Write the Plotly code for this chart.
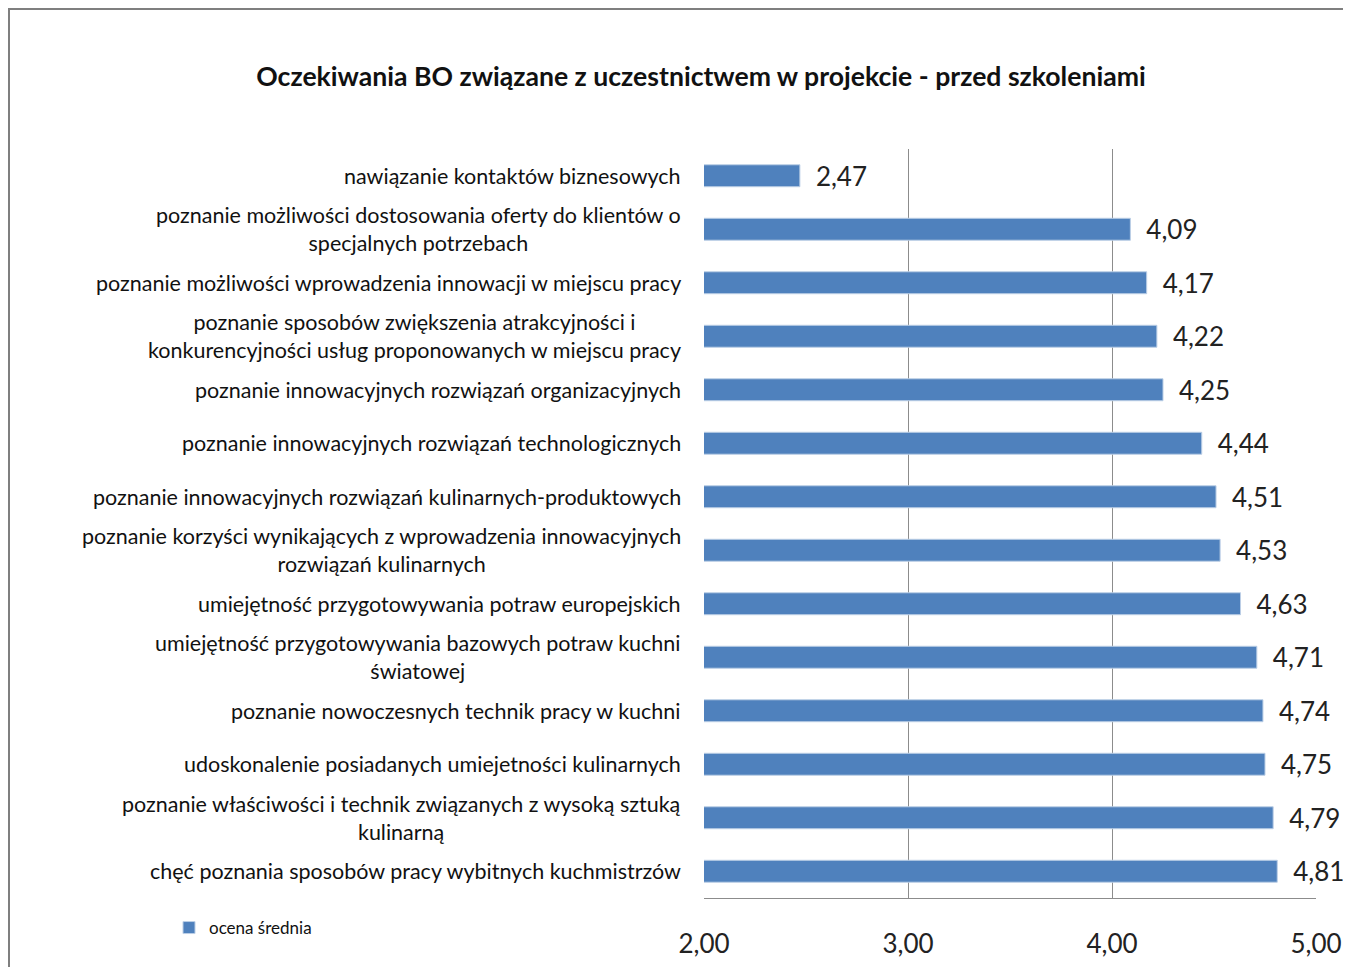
import plotly.graph_objects as go

categories = [
    "nawiązanie kontaktów biznesowych",
    "poznanie możliwości dostosowania oferty do klientów o<br>specjalnych potrzebach",
    "poznanie możliwości wprowadzenia innowacji w miejscu pracy",
    "poznanie sposobów zwiększenia atrakcyjności i<br>konkurencyjności usług proponowanych w miejscu pracy",
    "poznanie innowacyjnych rozwiązań organizacyjnych",
    "poznanie innowacyjnych rozwiązań technologicznych",
    "poznanie innowacyjnych rozwiązań kulinarnych-produktowych",
    "poznanie korzyści wynikających z wprowadzenia innowacyjnych<br>rozwiązań kulinarnych",
    "umiejętność przygotowywania potraw europejskich",
    "umiejętność przygotowywania bazowych potraw kuchni<br>światowej",
    "poznanie nowoczesnych technik pracy w kuchni",
    "udoskonalenie posiadanych umiejetności kulinarnych",
    "poznanie właściwości i technik związanych z wysoką sztuką<br>kulinarną",
    "chęć poznania sposobów pracy wybitnych kuchmistrzów",
]
values = [2.47, 4.09, 4.17, 4.22, 4.25, 4.44, 4.51, 4.53, 4.63, 4.71, 4.74, 4.75, 4.79, 4.81]
series_name = "ocena średnia"
tick_values = [2, 3, 4, 5]
title = "Oczekiwania BO związane z uczestnictwem w projekcie - przed szkoleniami"

W, H = 1351, 967
OFF = 8  # page body margin
L, R, T, B = 704 - OFF, 1316 - OFF, 149 - OFF, 898 - OFF
pw = R - L
ph = B - T

FONT = "Lato"
bar_color = "#4F81BD"

fig = go.Figure()
fig.add_trace(go.Bar(
    x=values, y=list(range(len(categories))), orientation="h",
    name=series_name,
    marker=dict(color=bar_color, line=dict(color="#BCCFE6", width=1)),
    text=["\u2002" + f"{v:.2f}".replace(".", ",") for v in values],
    textposition="outside", cliponaxis=False, constraintext="none",
    textfont=dict(family=FONT, size=26, color="#222222"),
    width=0.41,
))

annotations = []
for i, c in enumerate(categories):
    annotations.append(dict(
        x=-21 / pw, xref="paper", y=i, yref="y",
        text=c, showarrow=False, xanchor="right", yanchor="middle",
        align="center", font=dict(family=FONT, size=21.5, color="#111111"),
    ))

fig.update_layout(
    width=W, height=H,
    margin=dict(l=L, r=W - R, t=T, b=H - B, pad=0),
    paper_bgcolor="white", plot_bgcolor="white",
    separators=",.",
    title=dict(text="<b>" + title + "</b>", x=(701 - OFF) / W, xanchor="center",
               y=1 - (77 - OFF) / H, yanchor="middle",
               font=dict(family=FONT, size=26.6, color="#111111")),
    xaxis=dict(range=[2, 5], tickvals=tick_values, tickformat=".2f",
               showgrid=True, gridcolor="#8C8C8C", gridwidth=1,
               showline=True, linecolor="#8C8C8C", linewidth=1,
               ticks="", tickfont=dict(family=FONT, size=26, color="#222222"),
               ticklabelstandoff=23, zeroline=False, fixedrange=True),
    yaxis=dict(range=[len(categories) - 0.5, -0.5], showticklabels=False,
               showgrid=False, showline=False, zeroline=False, ticks=""),
    showlegend=True,
    legend=dict(x=(161 - L) / pw, xanchor="left", y=(B - (928 - OFF)) / ph, yanchor="middle",
                font=dict(family=FONT, size=17, color="#111111"),
                bgcolor="rgba(0,0,0,0)", itemwidth=30),
    annotations=annotations,
    bargap=0.59,
)

# outer frame
fig.add_shape(type="rect", xref="paper", yref="paper",
              x0=(1 - L) / pw, x1=(1400 - L) / pw,
              y0=(B - 1100) / ph, y1=(B - 1) / ph,
              line=dict(color="#7F7F7F", width=2), fillcolor="rgba(0,0,0,0)")

fig.write_html("out.html")
